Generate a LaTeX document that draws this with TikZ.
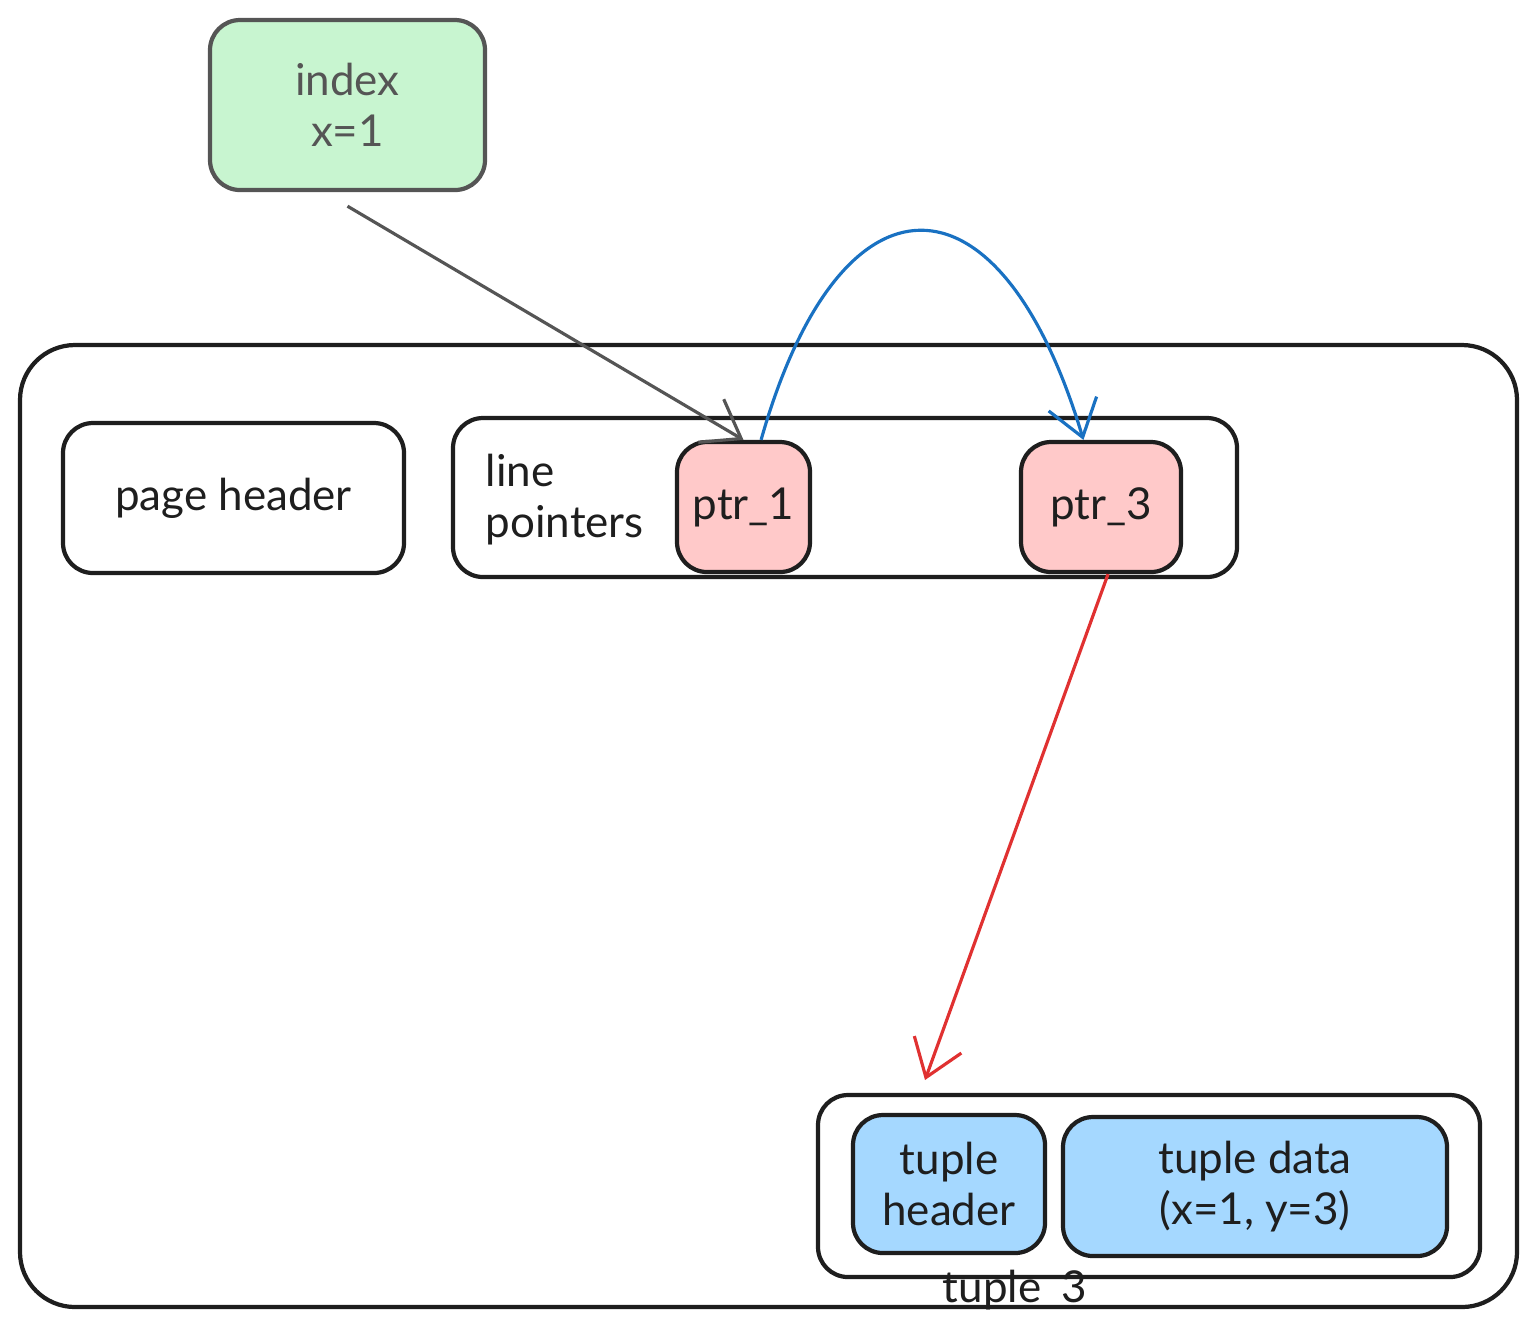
\documentclass[tikz,border=0pt]{standalone}
\usepackage{fontspec}
\setmainfont{Lato}
\usetikzlibrary{arrows.meta}
\definecolor{ink}{HTML}{1E1E1E}
\definecolor{greyink}{HTML}{555555}
\definecolor{mint}{HTML}{C8F5D0}
\definecolor{rose}{HTML}{FFC9C9}
\definecolor{sky}{HTML}{A5D8FF}
\definecolor{arrblue}{HTML}{1971C2}
\definecolor{arrred}{HTML}{E03131}
\tikzset{
  box/.style={draw=ink, line width=1.2pt, rounded corners=0.3cm,
    text=ink, align=center, inner sep=0pt},
  lbl/.style={text=ink, align=left, inner sep=0pt},
  barb/.style={line width=0.9pt, -{Straight Barb[length=3.5mm,width=5mm]}}
}
\begin{document}
\begin{tikzpicture}[font=\fontsize{12.5}{14.5}\selectfont]
			\useasboundingbox (0,0) rectangle (15.36,-13.38);
			\node[box, draw=greyink, text=greyink, fill=mint, minimum width=2.75cm,
			minimum height=1.7cm] (index) at (3.475,-1.05) {index\\x=1};
			\node[box, rounded corners=0.55cm, minimum width=14.97cm,
			minimum height=9.62cm] (page) at (7.685,-8.26) {};
			\foreach \x/\y/\w/\h/\col/\nm/\texn in {
				2.335/-4.98/3.41/1.5/white/pghdr/page header,
				8.45/-4.975/7.84/1.59/white/lineptr/,
				7.435/-5.07/1.33/1.3/rose/ptr1/ptr\_1,
				11.01/-5.07/1.6/1.3/rose/ptr3/ptr\_3,
				11.49/-11.86/6.62/1.82/white/tuple3/,
				9.49/-11.84/1.92/1.38/sky/tuphdr/{tuple\\header},
				12.55/-11.865/3.84/1.39/sky/tupdata/{tuple data\\(x=1, y=3)}}
			\node[box, fill=\col, minimum width=\w cm, minimum height=\h cm]
			(\nm) at (\x,\y) {\texn};
			\node[lbl, anchor=west] (lptext) at (4.85,-5.0) {line\\pointers};
			\node[lbl] (tuplbl) at (10.15,-12.9) {tuple\_3};
			\coordinate (tgt) at (9.25,-10.8);
			\draw[barb, greyink] ([yshift=-4pt]index.south) -- (ptr1.north);
			\draw[barb, arrblue] ([xshift=5pt]ptr1.north) .. controls (8.4,-1.61)
			and (10.0,-1.61) .. ([xshift=-5pt]ptr3.north);
			\draw[barb, arrred] ([xshift=2pt]ptr3.south) -- (tgt);
		\end{tikzpicture}
\end{document}
